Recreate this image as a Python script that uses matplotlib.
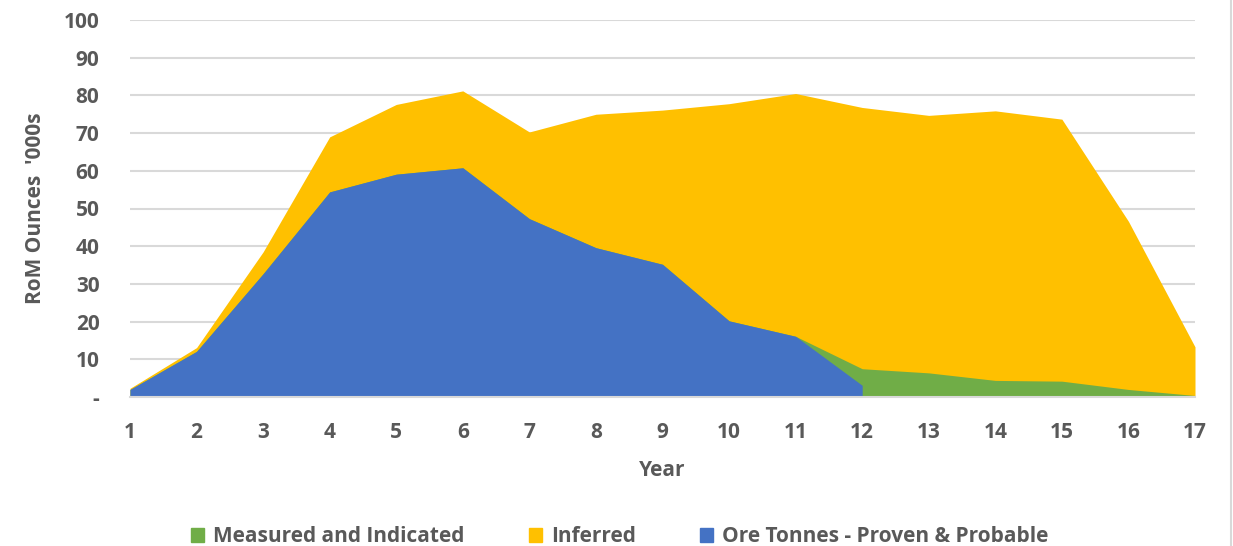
import numpy as np
import matplotlib
matplotlib.use("Agg")
import matplotlib.pyplot as plt
from matplotlib.patches import Patch
from matplotlib.lines import Line2D

years = list(range(1, 18))
ore_proven_probable = [2.0, 12.1, 32.7, 54.4, 59.1, 60.8, 47.3, 39.6, 35.2, 20.2, 16.1, 3.1,
                       np.nan, np.nan, np.nan, np.nan, np.nan]
measured_indicated = [0, 0, 0, 0, 0, 0, 0, 0, 0, 0, 0, 4.4, 6.4, 4.4, 4.2, 2.0, 0.4]
inferred = [0.3, 1.0, 5.8, 14.6, 18.5, 20.4, 23.0, 35.4, 40.9, 57.6, 64.4, 69.3, 68.3,
            71.5, 69.5, 44.6, 12.9]
y_ticks = [0, 10, 20, 30, 40, 50, 60, 70, 80, 90, 100]
y_tick_labels = ["-", "10", "20", "30", "40", "50", "60", "70", "80", "90", "100"]

C_GREEN = "#70ad47"
C_YELLOW = "#ffc000"
C_BLUE = "#4472c4"
C_TEXT = "#595959"
C_GRID = "#d9d9d9"
FS = 15

plt.rcParams['font.family'] = ['Open Sans', 'DejaVu Sans']

x = np.array(years, dtype=float)
blue = np.array(ore_proven_probable, dtype=float)
blue0 = np.nan_to_num(blue)
green = np.array(measured_indicated, dtype=float)
yellow = np.array(inferred, dtype=float)

green_top = blue0 + green
total = green_top + yellow

fig = plt.figure(figsize=(12.33, 5.46), dpi=100)
ax = fig.add_axes([130/1233, 1 - 397/546, (1195-130)/1233, (397-20)/546])

ax.set_axisbelow(True)
ax.fill_between(x, 0, total, color=C_YELLOW, linewidth=0, zorder=2)
ax.fill_between(x, 0, green_top, color=C_GREEN, linewidth=0, zorder=3)
mask = ~np.isnan(blue)
ax.fill_between(x[mask], 0, blue[mask], color=C_BLUE, linewidth=0, zorder=4)

ax.set_xlim(1, 17)
ax.set_ylim(0, 100)
ax.set_yticks(y_ticks)
ax.set_yticklabels(y_tick_labels)
ax.set_xticks(years)
ax.set_xticklabels([str(y) for y in years])
ax.yaxis.grid(True, color=C_GRID, linewidth=1.5, zorder=0)
ax.xaxis.grid(False)
for s in ["top", "right", "left"]:
    ax.spines[s].set_visible(False)
ax.spines["bottom"].set_color(C_GRID)
ax.spines["bottom"].set_linewidth(1.5)
ax.spines["bottom"].set_zorder(5)
ax.tick_params(axis="both", length=0, labelcolor=C_TEXT, labelsize=FS)
ax.tick_params(axis="y", pad=22)
ax.tick_params(axis="x", pad=18)
for lbl in ax.get_xticklabels() + ax.get_yticklabels():
    lbl.set_fontweight("bold")

ax.set_xlabel("Year", fontsize=FS, fontweight="bold", color=C_TEXT, labelpad=12)
ax.set_ylabel("RoM Ounces  '000s", fontsize=FS, fontweight="bold", color=C_TEXT, labelpad=13)

handles = [Patch(color=C_GREEN), Patch(color=C_YELLOW), Patch(color=C_BLUE)]
labels = ["Measured and Indicated", "Inferred", "Ore Tonnes - Proven & Probable"]
leg = fig.legend(handles, labels, loc="center", bbox_to_anchor=(620/1233, 1 - 537/546),
                 ncol=3, frameon=False, fontsize=FS, handlelength=0.6, handleheight=0.65,
                 handletextpad=0.45, columnspacing=3.1)
for t in leg.get_texts():
    t.set_color(C_TEXT)
    t.set_fontweight("bold")

fig.add_artist(Line2D([1231/1233, 1231/1233], [0, 1], color=C_GRID, linewidth=1.5))

fig.savefig("out.png", dpi=100)
